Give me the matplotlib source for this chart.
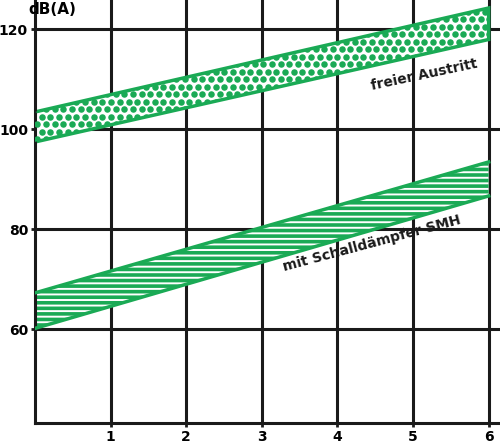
import matplotlib.pyplot as plt
import numpy as np
from matplotlib.path import Path
from matplotlib.patches import PathPatch

green = "#1aaa55"

x = [0, 6]
free_low = [97.5, 118.0]
free_high = [103.5, 124.3]
smh_low = [60.2, 86.7]
smh_high = [67.3, 93.5]

xticks = [1, 2, 3, 4, 5, 6]
yticks = [60, 80, 100, 120]

plt.rcParams["hatch.linewidth"] = 2.6
fig = plt.figure(figsize=(5, 4.47), dpi=100)
ax = fig.add_axes([0.07, 0.054, 0.93, 0.946])
ax.set_xlim(0, 6.15)
ax.set_ylim(41.3, 125.9)

for v in xticks:
    ax.axvline(v, color="#1a1a1a", lw=2.2, zorder=1)
for v in yticks:
    ax.axhline(v, color="#1a1a1a", lw=2.2, zorder=1)

# freier Austritt: dotted band
band = np.array([[x[0], free_low[0]], [x[1], free_low[1]], [x[1], free_high[1]], [x[0], free_high[0]]])
patch = PathPatch(Path(np.vstack([band, band[:1]]), closed=True), fc="white", ec=green, lw=2.5, zorder=2)
ax.add_patch(patch)
gx, gy = np.meshgrid(np.arange(0.03, 6.2, 0.115), np.arange(95, 126, 1.5))
gx = gx + (np.arange(gx.shape[0])[:, None] % 2) * 0.0575
dots = ax.scatter(gx.ravel(), gy.ravel(), s=22, color=green, lw=0, zorder=3)
dots.set_clip_path(patch)

# mit Schalldaempfer: striped band
ax.fill_between(x, smh_low, smh_high, facecolor="white", edgecolor=green, hatch="---", lw=0, zorder=2)
ax.plot(x, smh_low, color=green, lw=2.5, zorder=3)
ax.plot(x, smh_high, color=green, lw=2.5, zorder=3)

ax.text(5.15, 111.0, "freier Austritt", rotation=12, ha="center", va="center",
        fontsize=10, fontweight="bold", color="#1a1a1a", zorder=4)
ax.text(4.45, 77.2, "mit Schalldämpfer SMH", rotation=15, ha="center", va="center",
        fontsize=10, fontweight="bold", color="#1a1a1a", zorder=4)

ax.set_xticks(xticks)
ax.set_yticks(yticks)
ax.tick_params(length=3, width=2, color="#1a1a1a", labelsize=10, pad=2)
for lab in ax.get_xticklabels() + ax.get_yticklabels():
    lab.set_fontweight("bold")
for s in ["top", "right"]:
    ax.spines[s].set_visible(False)
for s in ["left", "bottom"]:
    ax.spines[s].set_linewidth(2.2)
    ax.spines[s].set_color("#1a1a1a")
fig.text(0.105, 0.995, "dB(A)", ha="center", va="top", fontsize=11, fontweight="bold")

fig.savefig("out.png")
